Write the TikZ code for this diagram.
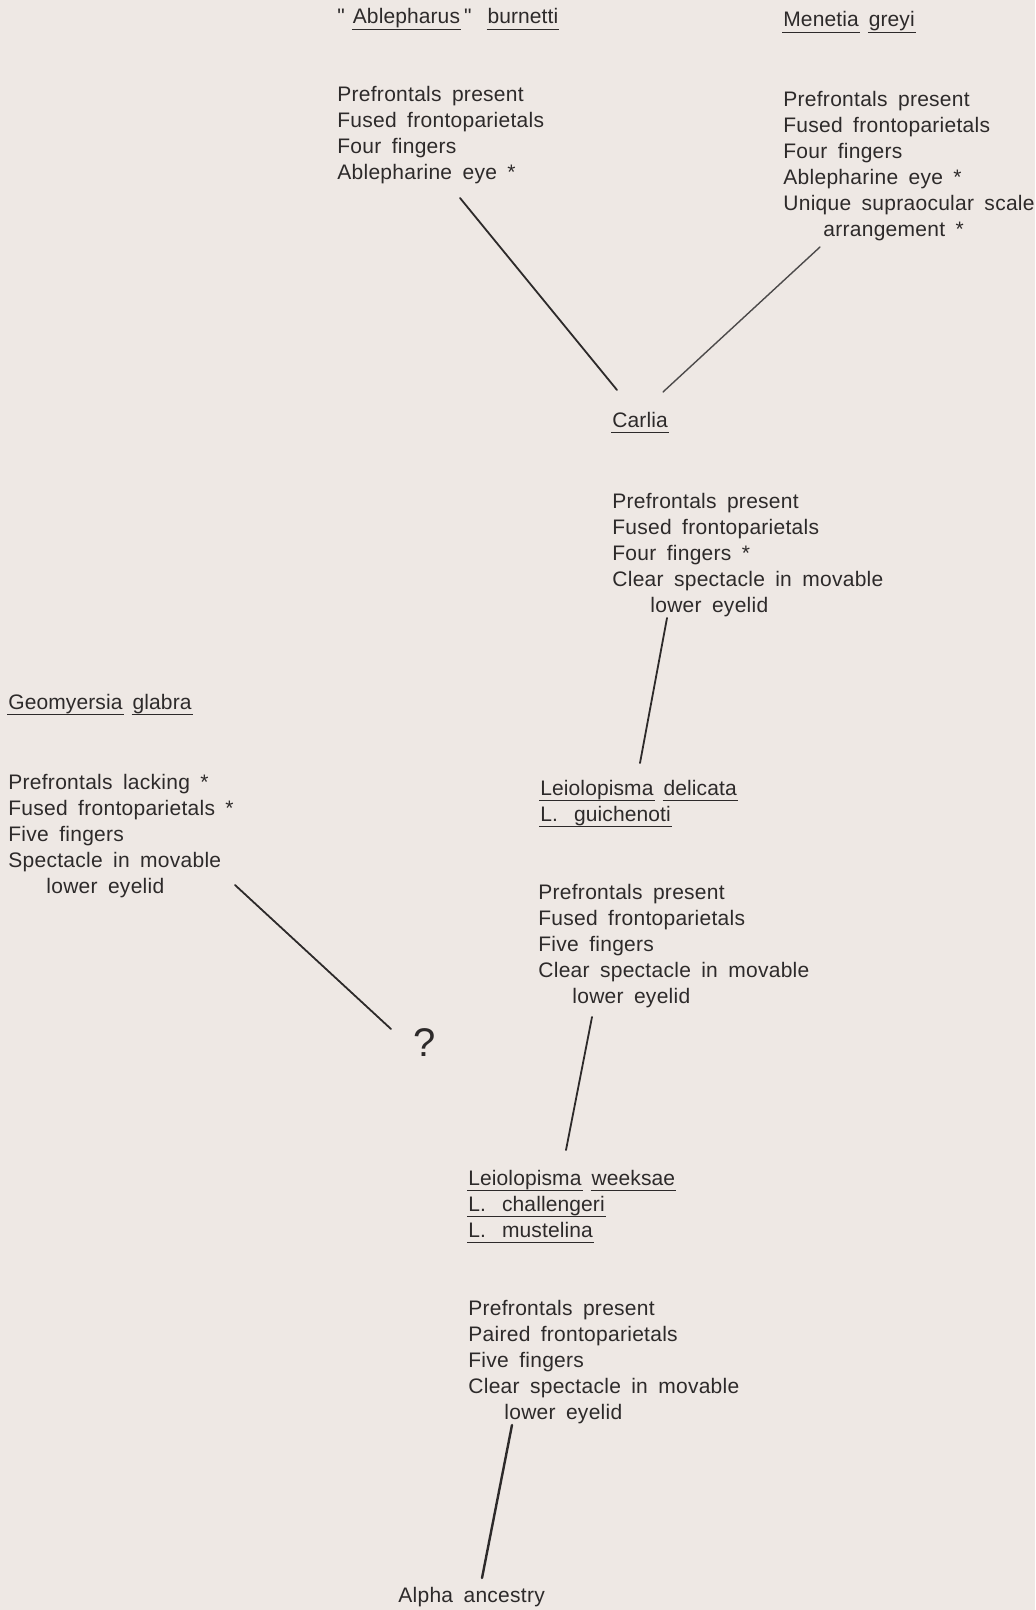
\documentclass[tikz,border=0pt]{standalone}
\usepackage{fontspec}
\setmainfont{Liberation Sans}[LetterSpace=1.3,WordSpace=1.7]
\definecolor{paper}{RGB}{238,232,228}
\definecolor{ink}{RGB}{45,42,42}
% underlined taxon name, one rule per word
\newcommand\uword[1]{\setbox0\hbox{#1}\rlap{\kern-0.5pt\rule[-3pt]{\dimexpr\wd0+1pt\relax}{0.55pt}}\box0\relax}
\begin{document}
\begin{tikzpicture}[x=0.5pt, y=-0.5pt, font=\fontsize{10.5}{13}\selectfont, line cap=round,
    every node/.style={inner sep=0pt, text=ink},
    taxon/.style={align=left, anchor=base west, font=\fontsize{10.5}{13}\selectfont\addfontfeatures{LetterSpace=0.5}},
    traits/.style={align=left, anchor=base west},
    branch/.style={draw=ink, line width=0.9pt}]
  \fill[paper] (0,0) rectangle (1035,1610);
  \useasboundingbox (0,0) rectangle (1035,1610);

  % top pair (multi-line nodes sit on the baseline of their last line)
  \node[taxon] (ablepharus) at (337,24) {\textquotedbl\hspace{4pt}\uword{Ablepharus}\hspace{2pt}\textquotedbl\hspace{8pt}\uword{burnetti}};
  \node[traits] (ablepharus-traits) at (337,180) {Prefrontals present\\Fused frontoparietals\\Four fingers\\Ablepharine eye *};
  \node[taxon] (menetia) at (783,27) {\uword{Menetia} \uword{greyi}};
  \node[traits] (menetia-traits) at (783,237) {Prefrontals present\\Fused frontoparietals\\Four fingers\\Ablepharine eye *\\Unique supraocular scale\\\hspace*{20pt}arrangement *};

  % carlia
  \node[taxon] (carlia) at (612,427) {\uword{Carlia}};
  \node[traits] (carlia-traits) at (612,612) {Prefrontals present\\Fused frontoparietals\\Four fingers *\\Clear spectacle in movable\\\hspace*{19pt}lower eyelid};

  % geomyersia
  \node[taxon] (geomyersia) at (8,709) {\uword{Geomyersia} \uword{glabra}};
  \node[traits] (geomyersia-traits) at (8,893) {Prefrontals lacking *\\Fused frontoparietals *\\Five fingers\\Spectacle in movable\\\hspace*{19pt}lower eyelid};
  \node (query) at (425,1043) {\fontsize{20}{24}\selectfont ?};

  % leiolopisma
  \node[taxon] (delicata) at (540,821) {\uword{Leiolopisma} \uword{delicata}\\\uword{L.\ \hspace{3pt}guichenoti}};
  \node[traits] (delicata-traits) at (538,1003) {Prefrontals present\\Fused frontoparietals\\Five fingers\\Clear spectacle in movable\\\hspace*{17pt}lower eyelid};
  \node[taxon] (weeksae) at (468,1237) {\uword{Leiolopisma} \uword{weeksae}\\\uword{L.\ \hspace{3pt}challengeri}\\\uword{L.\ \hspace{3pt}mustelina}};
  \node[traits] (weeksae-traits) at (468,1419) {Prefrontals present\\Paired frontoparietals\\Five fingers\\Clear spectacle in movable\\\hspace*{18pt}lower eyelid};
  \node[anchor=base west] (alpha) at (398,1602) {Alpha ancestry};

  % branch ends
  \coordinate (ablepharus-foot) at (460,198);
  \coordinate (menetia-foot) at (820,247);
  \coordinate (carlia-left) at (617,390);
  \coordinate (carlia-right) at (663,392);
  \coordinate (carlia-foot) at (667,618);
  \coordinate (delicata-head) at (640,763);
  \coordinate (delicata-foot) at (592,1017);
  \coordinate (weeksae-head) at (566,1150);
  \coordinate (geomyersia-foot) at (235,885);
  \coordinate (query-head) at (391,1029);
  \coordinate (weeksae-foot) at (512,1425);
  \coordinate (alpha-head) at (482,1578);

  \draw[branch] (ablepharus-foot) -- (carlia-left);
  \draw[branch, line width=0.7pt, draw=ink!85] (menetia-foot) -- (carlia-right);
  \draw[branch] (carlia-foot) -- (delicata-head);
  \draw[branch] (delicata-foot) -- (weeksae-head);
  \draw[branch] (geomyersia-foot) -- (query-head);
  \draw[branch, line width=1.2pt] (weeksae-foot) -- (alpha-head);
\end{tikzpicture}
\end{document}
